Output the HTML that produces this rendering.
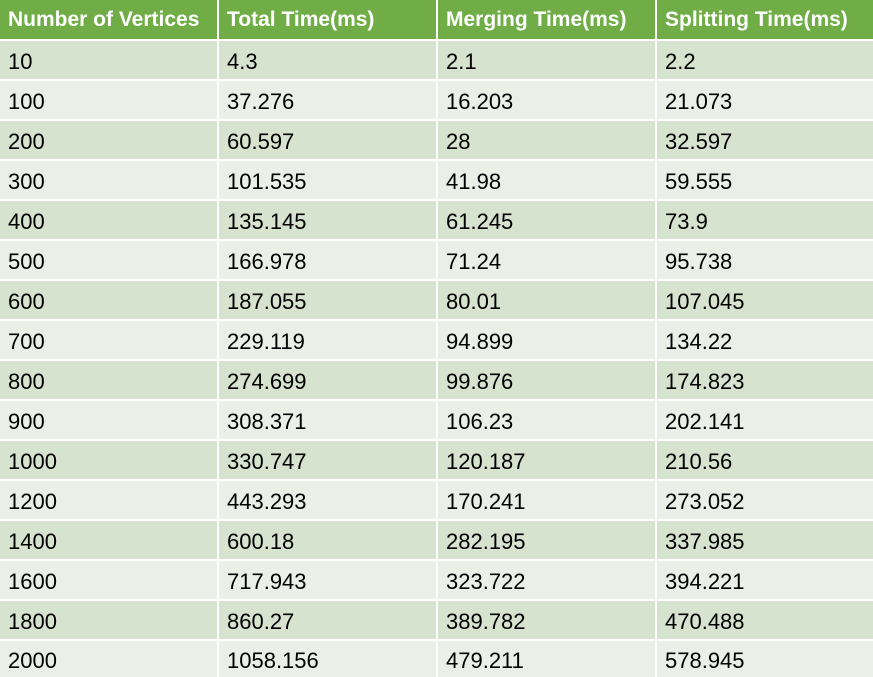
<!DOCTYPE html>
<html><head><meta charset="utf-8"><style>
body{margin:0;background:#fff;}
#t{position:relative;width:873px;height:677px;font-family:"Liberation Sans",sans-serif;font-size:22px;overflow:hidden;}
.c{position:absolute;box-sizing:border-box;padding-left:8px;padding-top:3px;display:flex;align-items:center;color:#000;white-space:nowrap;}
.h{background:#70AD47;color:#fff;font-weight:bold;font-size:21px;padding-top:1px;}
.d{background:#D5E3CF;}
.l{background:#EAF0E8;}
</style></head><body>
<div id="t"></div>
<script>
const headers=["Number of Vertices","Total Time(ms)","Merging Time(ms)","Splitting Time(ms)"];
const vertices=["10","100","200","300","400","500","600","700","800","900","1000","1200","1400","1600","1800","2000"];
const total=["4.3","37.276","60.597","101.535","135.145","166.978","187.055","229.119","274.699","308.371","330.747","443.293","600.18","717.943","860.27","1058.156"];
const merging=["2.1","16.203","28","41.98","61.245","71.24","80.01","94.899","99.876","106.23","120.187","170.241","282.195","323.722","389.782","479.211"];
const splitting=["2.2","21.073","32.597","59.555","73.9","95.738","107.045","134.22","174.823","202.141","210.56","273.052","337.985","394.221","470.488","578.945"];
const t=document.getElementById('t');
const colX=[0,219,438,657],colW=[217,217,217,216];
function cell(txt,ci,y,h,cls,name){
  const e=document.createElement('div');
  e.className='c '+cls;
  e.style.left=colX[ci]+'px';e.style.top=y+'px';e.style.width=colW[ci]+'px';e.style.height=h+'px';
  e.textContent=txt;
  
  
  t.appendChild(e);
}
headers.forEach((h,i)=>cell(h,i,0,39,'h','header-cell'));
vertices.forEach((v,r)=>{
  const y=40+r*40, h=(r==vertices.length-1)?37:38, cls=r%2==0?'d':'l';
  [v,total[r],merging[r],splitting[r]].forEach((x,ci)=>cell(x,ci,y+1,h,cls,'data-cell'));
});
</script>
</body></html>
